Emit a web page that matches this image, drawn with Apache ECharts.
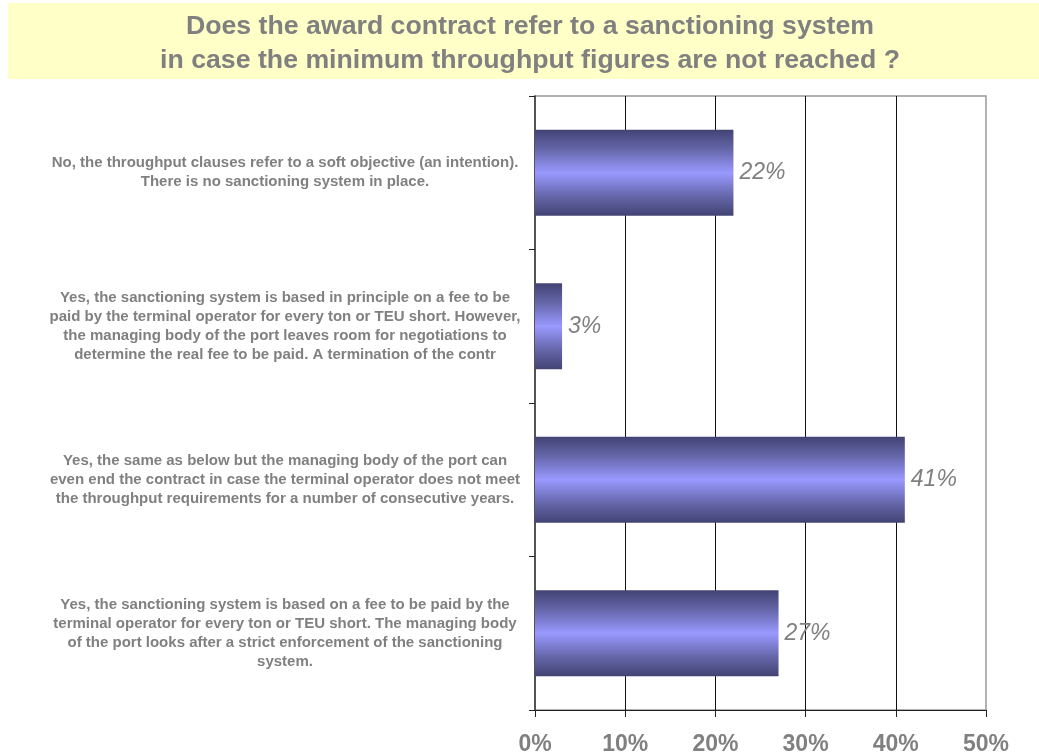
<!DOCTYPE html>
<html>
<head>
<meta charset="utf-8">
<script src="https://cdn.jsdelivr.net/npm/echarts@6/dist/echarts.min.js"></script>
<style>
  html, body { margin: 0; padding: 0; background: #ffffff; }
  #chart { width: 1039px; height: 756px; }
</style>
</head>
<body>
<div id="chart"></div>
<script>
// Survey answers (top to bottom), shares in percent, axis ticks
const titleLines = [
  'Does the award contract refer to a sanctioning system',
  'in case the minimum throughput figures are not reached ?'
];
const categories = [
  'No, the throughput clauses refer to a soft objective (an intention).\nThere is no sanctioning system in place.',
  'Yes, the sanctioning system is based in principle on a fee to be\npaid by the terminal operator for every ton or TEU short. However,\nthe managing body of the port leaves room for negotiations to\ndetermine the real fee to be paid. A termination of the contr',
  'Yes, the same as below but the managing body of the port can\neven end the contract in case the terminal operator does not meet\nthe throughput requirements for a number of consecutive years.',
  'Yes, the sanctioning system is based on a fee to be paid by the\nterminal operator for every ton or TEU short. The managing body\nof the port looks after a strict enforcement of the sanctioning\nsystem.'
];
const shares = [22, 3, 41, 27];
const axisMin = 0;
const axisMax = 50;
const axisStep = 10;

const gray = '#808080';
const fontFamily = '"Liberation Sans", Arial, sans-serif';
const chart = echarts.init(document.getElementById('chart'));

chart.setOption({
  backgroundColor: '#ffffff',
  animation: false,
  graphic: [
    {
      type: 'rect',
      shape: { x: 8, y: 3, width: 1031, height: 76 },
      style: { fill: '#ffffc8' },
      z: 0
    },
    {
      type: 'text',
      x: 530,
      y: 10,
      style: {
        text: titleLines.join('\n'),
        fill: gray,
        font: 'bold 26.7px ' + fontFamily,
        lineHeight: 34,
        align: 'center',
        verticalAlign: 'top'
      },
      z: 1
    }
  ],
  grid: {
    left: 535,
    right: 53,
    top: 96,
    bottom: 45,
    show: true,
    borderColor: '#999999',
    borderWidth: 1.5
  },
  xAxis: {
    type: 'value',
    min: axisMin,
    max: axisMax,
    interval: axisStep,
    axisLine: { show: true, lineStyle: { color: '#222222', width: 1.2 } },
    axisTick: { show: true, length: 7, lineStyle: { color: '#222222' } },
    splitLine: {
      show: true,
      showMinLine: false,
      showMaxLine: false,
      lineStyle: { color: '#111111', width: 1 }
    },
    axisLabel: {
      margin: 23,
      color: gray,
      fontSize: 23,
      fontWeight: 'bold',
      fontFamily: fontFamily,
      formatter: v => v + '%'
    }
  },
  yAxis: {
    type: 'category',
    inverse: true,
    data: categories,
    axisLine: { show: true, lineStyle: { color: '#333333', width: 1.5 } },
    axisTick: { show: true, length: 6, lineStyle: { color: '#222222' } },
    axisLabel: {
      margin: 250,
      align: 'center',
      color: gray,
      fontSize: 15,
      fontWeight: 'bold',
      lineHeight: 19,
      fontFamily: fontFamily
    }
  },
  series: [
    {
      type: 'bar',
      data: shares,
      barWidth: '56%',
      itemStyle: {
        color: new echarts.graphic.LinearGradient(0, 0, 0, 1, [
          { offset: 0, color: '#424373' },
          { offset: 0.22, color: '#6465a8' },
          { offset: 0.5, color: '#9999ff' },
          { offset: 0.78, color: '#6465a8' },
          { offset: 1, color: '#424373' }
        ])
      },
      label: {
        show: true,
        position: 'right',
        distance: 6,
        color: gray,
        fontSize: 23,
        fontStyle: 'italic',
        fontFamily: fontFamily,
        formatter: p => p.value + '%'
      }
    }
  ]
});
</script>
</body>
</html>
